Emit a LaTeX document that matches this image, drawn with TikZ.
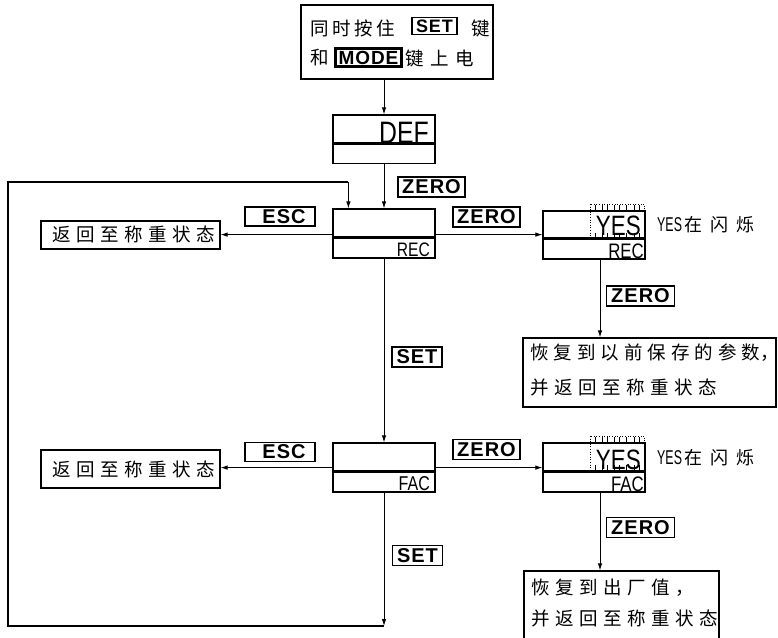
\documentclass[tikz,border=0pt]{standalone}
\usepackage{fontspec}
\setmainfont{Liberation Sans}
\newfontfamily\cjk{Noto Sans CJK SC}
\newfontfamily\lblfont[LetterSpace=5]{Liberation Sans}
\usetikzlibrary{arrows.meta,calc}
\makeatletter
\newcommand\spaced[2]{\@tfor\spc@c:=#2\do{\makebox[#1][l]{\spc@c}}}
\makeatother
\newcommand\narrow[1]{\scalebox{0.8}[1]{#1}}
\begin{document}
\begin{tikzpicture}[x=1pt,y=-1pt,
  cn/.style={font=\fontsize{18.5}{20}\selectfont\cjk, inner sep=0pt, anchor=west},
  frame/.style={draw, line width=1.2pt, inner sep=0pt},
  keylbl/.style={draw, line width=1.4pt, inner sep=0pt, font=\fontsize{20}{20}\selectfont\lblfont\bfseries},
  dispup/.style={draw, line width=1.2pt, minimum width=102pt, minimum height=28pt, inner sep=0pt},
  displo/.style={draw, line width=1.2pt, minimum width=102pt, minimum height=21pt, inner sep=0pt},
  divider/.style={line width=2.2pt},
  dtxt/.style={inner sep=0pt, anchor=base east},
  arr/.style={-{Latex[length=7pt,width=4.5pt]}, line width=0.9pt},
  loopline/.style={line width=2.2pt, line join=miter},
  blink/.style={dotted, line width=0.6pt},
  tick/.style={line width=0.7pt}]
\useasboundingbox (0,0) rectangle (778,637);

% start box
\node[frame, minimum width=192pt, minimum height=74pt] (start) at (397,42) {};
\node[cn] (t1) at (310,28) {\spaced{22pt}{同时按住}};
\node[keylbl, line width=1.2pt, minimum width=45pt, minimum height=17pt, font=\fontsize{18}{18}\selectfont\lblfont\bfseries] (kset) at (434.5,26) {SET};
\node[cn] (t2) at (471,28) {键};
\node[cn] (t3) at (310,58) {和};
\node[keylbl, line width=2.6pt, minimum width=66pt, minimum height=18pt, font=\fontsize{19}{19}\selectfont\lblfont\bfseries] (kmode) at (368.5,57.5) {MODE};
\node[cn] (t4) at (405,58) {\spaced{25pt}{键上电}};

% displays
\node[dispup] (defu) at (384,129) {};
\node[displo] (defl) at (384,153) {};
\node[dispup] (recu) at (384,223) {};
\node[displo] (recl) at (384,247.5) {};
\node[dispup] (facu) at (384,457) {};
\node[displo] (facl) at (384,481.5) {};
\node[dispup, minimum height=27pt] (yes1u) at (594,224.5) {};
\node[displo] (yes1l) at (594,248.5) {};
\node[dispup] (yes2u) at (594,457) {};
\node[displo] (yes2l) at (594,481.5) {};
\foreach \n in {defu,recu,facu,yes1u,yes2u}
  \draw[divider] (\n.south west) -- (\n.south east);

\node[dtxt, font=\fontsize{31}{31}\selectfont] (tdef) at (429,143) {\narrow{DEF}};
\node[dtxt, font=\fontsize{19.5}{20}\selectfont] (trec) at (430,256) {\narrow{REC}};
\node[dtxt, font=\fontsize{20}{20}\selectfont] (tfac) at (430,490) {\narrow{FAC}};
\node[dtxt, font=\fontsize{28}{28}\selectfont] (tyes1) at (641,235) {\narrow{YES}};
\node[dtxt, font=\fontsize{21}{21}\selectfont] (trec2) at (644,258) {\narrow{REC}};
\node[dtxt, font=\fontsize{28}{28}\selectfont] (tyes2) at (641,469) {\narrow{YES}};
\node[dtxt, font=\fontsize{21}{21}\selectfont] (tfac2) at (644,491) {\narrow{FAC}};

% blinking marks
\draw[blink] (590,204) rectangle (644,238);
\draw[blink] (590,436) rectangle (644,470);
\foreach \xx in {595,602,607,614,619,626,634,639} {
  \draw[tick] (\xx,205) -- (\xx,212);
  \draw[tick] (\xx,233) -- (\xx,239);
  \draw[tick] (\xx,437) -- (\xx,444);
  \draw[tick] (\xx,465) -- (\xx,471);
}
\node[inner sep=0pt, anchor=base west, font=\fontsize{20}{20}\selectfont] (blk1) at (657,231)
  {\scalebox{0.62}[1]{YES}\hspace{2pt}{\cjk\fontsize{18}{20}\selectfont\spaced{26pt}{在闪烁}}};
\node[inner sep=0pt, anchor=base west, font=\fontsize{20}{20}\selectfont] (blk2) at (657,464)
  {\scalebox{0.62}[1]{YES}\hspace{2pt}{\cjk\fontsize{18}{20}\selectfont\spaced{26pt}{在闪烁}}};

% return boxes
\node[frame, minimum width=179pt, minimum height=28pt] (ret1) at (130.5,235) {};
\node[cn] (tr1) at (52,234) {\spaced{24pt}{返回至称重状态}};
\node[frame, minimum width=179pt, minimum height=38pt] (ret2) at (130.5,469) {};
\node[cn] (tr2) at (52,469) {\spaced{24pt}{返回至称重状态}};

% final boxes
\node[frame, minimum width=253pt, minimum height=69pt] (fin1) at (649.5,372.5) {};
\node[cn] (tf1a) at (530,353) {\spaced{23.5pt}{恢复到以前保存的参}数\makebox[5pt][l]{，}};
\node[cn] (tf1b) at (530,387) {\spaced{24pt}{并返回至称重状态}};
\node[frame, minimum width=195pt, minimum height=89pt] (fin2) at (621.5,615.5) {};
\node[cn] (tf2a) at (531,588) {\spaced{24pt}{恢复到出厂值，}};
\node[cn] (tf2b) at (531,618) {\spaced{24pt}{并返回至称重状态}};

% key labels
\node[keylbl, minimum width=67pt, minimum height=20pt] (kz1) at (431.5,187) {ZERO};
\node[keylbl, minimum width=67pt, minimum height=20pt] (kz2) at (486.5,217) {ZERO};
\node[keylbl, minimum width=70pt, minimum height=19pt] (ke1) at (280,216.5) {\hspace*{8pt}ESC};
\node[keylbl, minimum width=50pt, minimum height=20pt] (ks1) at (417,357) {SET};
\node[keylbl, minimum width=68pt, minimum height=20pt] (kz3) at (640.5,296) {ZERO};
\node[keylbl, minimum width=67pt, minimum height=20pt] (kz4) at (486.5,449.5) {ZERO};
\node[keylbl, minimum width=70pt, minimum height=19pt] (ke2) at (280,452) {\hspace*{8pt}ESC};
\node[keylbl, minimum width=50pt, minimum height=20pt] (ks2) at (417.5,555.5) {SET};
\node[keylbl, minimum width=68pt, minimum height=20pt] (kz5) at (640.5,527.5) {ZERO};

% connectors
\draw[arr] (start.south -| defu.north) -- (defu.north);
\draw[arr] (defl.south) -- (recu.north);
\draw[arr] ($(recu.south east)+(0,-3)$) coordinate (r1) -- (r1 -| yes1u.west);
\draw[arr] ($(recu.south west)+(0,-3)$) coordinate (r2) -- (r2 -| ret1.east);
\draw[arr] (recl.south) -- (facu.north);
\draw[arr] ($(facu.south east)+(0,-4)$) coordinate (f1) -- (f1 -| yes2u.west);
\draw[arr] ($(facu.south west)+(0,-4)$) coordinate (f2) -- (f2 -| ret2.east);
\draw[arr] ($(yes1l.south)+(6,0)$) coordinate (y1) -- (y1 |- fin1.north);
\draw[arr] ($(yes2l.south)+(6,0)$) coordinate (y2) -- (y2 |- fin2.north);

\coordinate (lpB) at (384,626);
\coordinate (lpL) at (8,626);
\coordinate (lpT) at (8,182);
\coordinate (lpE) at ($(recu.north west)+(16,0)$);
\draw[arr] (facl.south) -- (lpB);
\draw[loopline] (lpB) -- (lpL) -- (lpT) -- (lpT -| lpE);
\draw[arr] (lpT -| lpE) -- (lpE);
\end{tikzpicture}
\end{document}
